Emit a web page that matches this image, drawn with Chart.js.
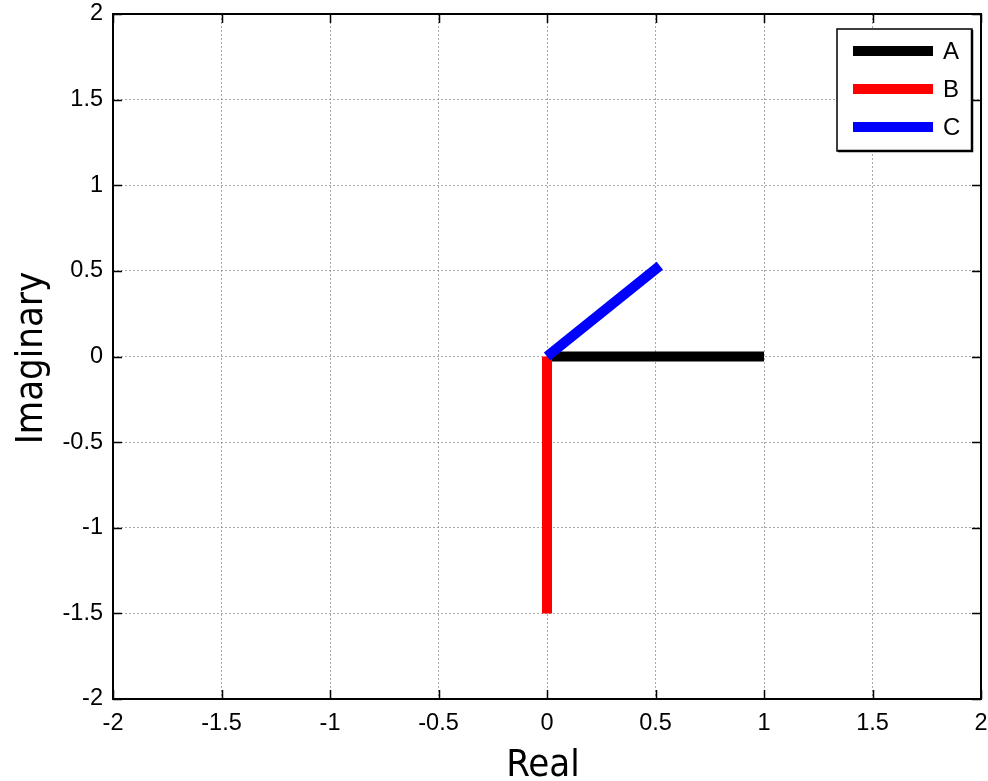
<!DOCTYPE html>
<html>
<head>
<meta charset="utf-8">
<script src="https://cdn.jsdelivr.net/npm/chart.js@4/dist/chart.umd.min.js"></script>
<style>
html,body{margin:0;padding:0;background:#fff;}
#wrap{width:988px;height:781px;position:relative;}
</style>
</head>
<body>
<div id="wrap"><canvas id="c" width="988" height="781"></canvas></div>
<script>
// Phasor data
const seriesNames = ['A', 'B', 'C'];
const realParts = [1, 0, 0.52];
const imagParts = [0, -1.5, 0.53];
const axisMin = -2, axisMax = 2, axisStep = 0.5;
const xTitle = 'Real';
const yTitle = 'Imaginary';

const colors = ['#000000', '#ff0000', '#0000ff'];

const datasets = seriesNames.map((n, i) => ({
  label: n,
  data: [{x: 0, y: 0}, {x: realParts[i], y: imagParts[i]}],
  showLine: true,
  borderColor: colors[i],
  backgroundColor: colors[i],
  borderWidth: 10,
  borderCapStyle: 'butt',
  pointRadius: 0,
  pointHoverRadius: 0,
  order: seriesNames.length - i
}));

const tickFont = {family: '"Liberation Sans", Arial, sans-serif', size: 23.5};
const titleFamily = '"DejaVu Sans Condensed", "DejaVu Sans", sans-serif';

const framePlugin = {
  id: 'frame',
  afterDraw(chart) {
    const ctx = chart.ctx;
    const a = chart.chartArea;
    const xs = chart.scales.x, ys = chart.scales.y;
    ctx.save();
    // frame
    ctx.strokeStyle = '#000';
    ctx.lineWidth = 2;
    ctx.strokeRect(a.left, a.top, a.right - a.left, a.bottom - a.top);
    // inward ticks
    ctx.lineWidth = 1.5;
    const tl = 9;
    xs.ticks.forEach(t => {
      const px = Math.round(xs.getPixelForValue(t.value)) + 0.5;
      ctx.beginPath();
      ctx.moveTo(px, a.bottom); ctx.lineTo(px, a.bottom - tl);
      ctx.moveTo(px, a.top); ctx.lineTo(px, a.top + tl);
      ctx.stroke();
    });
    ys.ticks.forEach(t => {
      const py = Math.round(ys.getPixelForValue(t.value)) + 0.5;
      ctx.beginPath();
      ctx.moveTo(a.left, py); ctx.lineTo(a.left + tl, py);
      ctx.moveTo(a.right, py); ctx.lineTo(a.right - tl, py);
      ctx.stroke();
    });
    // axis titles
    ctx.fillStyle = '#000';
    ctx.font = '38px ' + titleFamily;
    ctx.textAlign = 'center';
    ctx.textBaseline = 'alphabetic';
    ctx.fillText(xTitle, 543, 776);
    ctx.save();
    ctx.translate(42, 358);
    ctx.rotate(-Math.PI / 2);
    ctx.fillText(yTitle, 0, 0);
    ctx.restore();
    // legend
    const lx = 837, ly = 29, lw = 135, lh = 122;
    ctx.fillStyle = '#fff';
    ctx.fillRect(lx, ly, lw, lh);
    ctx.strokeStyle = '#000';
    ctx.lineWidth = 1.5;
    ctx.strokeRect(lx, ly, lw, lh);
    ctx.lineWidth = 2.5;
    ctx.beginPath();
    ctx.moveTo(lx + lw, ly + 1); ctx.lineTo(lx + lw, ly + lh);
    ctx.lineTo(lx + 1, ly + lh);
    ctx.stroke();
    const rowY = [51, 89, 127];
    ctx.font = '24px "Liberation Sans", Arial, sans-serif';
    ctx.textAlign = 'left';
    ctx.textBaseline = 'middle';
    chart.data.datasets.forEach((d, i) => {
      ctx.strokeStyle = d.borderColor;
      ctx.lineWidth = 10;
      ctx.lineCap = 'butt';
      ctx.beginPath();
      ctx.moveTo(853, rowY[i]); ctx.lineTo(933, rowY[i]);
      ctx.stroke();
      ctx.fillStyle = '#000';
      ctx.fillText(d.label, 943, rowY[i] + 1);
    });
    ctx.restore();
  }
};

function noPad(s) { s.paddingTop = 0; s.paddingBottom = 0; s.paddingLeft = 0; s.paddingRight = 0; }

new Chart(document.getElementById('c'), {
  type: 'scatter',
  data: {datasets},
  options: {
    responsive: false,
    animation: false,
    events: [],
    layout: {padding: {left: 0, top: 14, right: 7, bottom: 0}},
    plugins: {legend: {display: false}, tooltip: {enabled: false}},
    scales: {
      x: {
        type: 'linear', min: axisMin, max: axisMax,
        afterFit(s) { s.height = 82; noPad(s); },
        ticks: {stepSize: axisStep, color: '#000', font: tickFont, padding: 10, maxRotation: 0,
                callback: v => String(v)},
        grid: {color: 'rgba(140,140,140,0.75)', lineWidth: 1, drawTicks: false},
        border: {display: false, dash: [2, 2]}
      },
      y: {
        type: 'linear', min: axisMin, max: axisMax,
        afterFit(s) { s.width = 113; noPad(s); },
        ticks: {stepSize: axisStep, color: '#000', font: tickFont, padding: 10,
                callback: v => String(v)},
        grid: {color: 'rgba(140,140,140,0.75)', lineWidth: 1, drawTicks: false},
        border: {display: false, dash: [2, 2]}
      }
    }
  },
  plugins: [framePlugin]
});
</script>
</body>
</html>
